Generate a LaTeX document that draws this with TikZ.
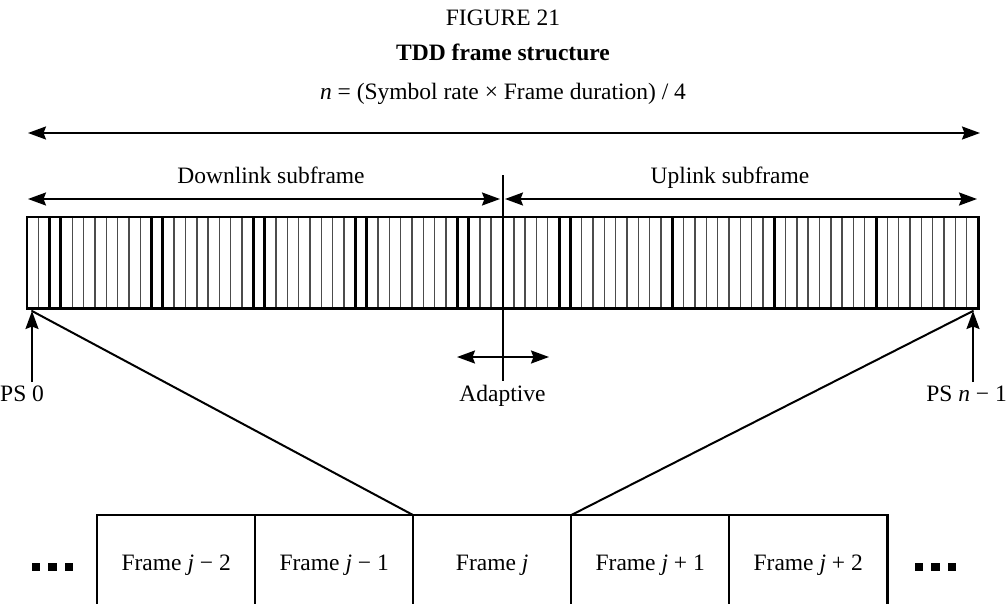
\documentclass[tikz,border=0pt]{standalone}
\usepackage{fontspec}
\setmainfont{Liberation Serif}
\usetikzlibrary{arrows.meta}

\begin{document}
\begin{tikzpicture}[x=1pt,y=-1pt,
  lbl/.style={font=\fontsize{23.5}{27}\selectfont, inner sep=0pt, anchor=base},
  tip/.tip={Stealth[length=18pt,width=13pt,inset=2.5pt]},
  dimline/.style={line width=2pt, {tip}-{tip}},
  pointer/.style={line width=2pt, -{tip}},
  edge/.style={line width=2pt, line cap=round},
  slotthin/.style={line width=1.4pt, draw=black!70},
  slotthick/.style={line width=3pt, draw=black},
  framebox/.style={minimum width=158pt, minimum height=99pt, inner sep=0pt,
    anchor=north west, font=\fontsize{23.5}{27}\selectfont,
    text height=16pt, text depth=5pt},
  dotsq/.style={fill=black, minimum size=8.5pt, inner sep=0pt}]

\useasboundingbox (0,0) rectangle (1007,603);
\clip (0,0) rectangle (1007,603);

% titles
\node[lbl] (fig)   at (503,25)  {FIGURE 21};
\node[lbl, font=\fontsize{23.5}{27}\selectfont\bfseries] (title) at (503,60) {TDD frame structure};
\node[lbl] (nlen)  at (503,99) {\textit{n} = (Symbol rate × Frame duration) / 4};

% overall length arrow
\coordinate (allL) at (28,133);
\coordinate (allR) at (980,133);
\draw[dimline] (allL) -- (allR);

% sub-frame labels and arrows
\node[lbl] (dltxt) at (271,183) {Downlink subframe};
\node[lbl] (ultxt) at (730,183) {Uplink subframe};
\coordinate (dlL) at (28,199);
\coordinate (dlR) at (500,199);
\coordinate (ulL) at (505,199);
\coordinate (ulR) at (977,199);
\draw[dimline] (dlL) -- (dlR);
\draw[dimline] (ulL) -- (ulR);

% the frame of physical slots (84 slots of 951/84 pt)
\node[minimum width=951pt, minimum height=91pt, inner sep=0pt, anchor=north west]
  (bar) at (27,217) {};
\foreach \i in {1,...,83} {
  \pgfmathsetmacro{\xx}{27+\i*11.32143}
  \draw[slotthin] (\xx,217) -- (\xx,308);
}
\foreach \i in {2,3,11,12,20,21,29,30,38,39,47,48,57,66,75} {
  \pgfmathsetmacro{\xx}{27+\i*11.32143}
  \draw[slotthick] (\xx,217) -- (\xx,308);
}
\draw[line width=2.2pt] (bar.north west) rectangle (bar.south east);

% adaptive boundary
\coordinate (divtop) at (502.5,175);
\coordinate (divbot) at (502.5,381);
\draw[line width=2pt] (divtop) -- (divbot);
\coordinate (adL) at (457,357);
\coordinate (adR) at (549,357);
\draw[dimline] (adL) -- (adR);
\node[lbl] (adtxt) at (502.5,401) {Adaptive};

% physical slot markers
\coordinate (ps0tip)  at (32,311);
\coordinate (ps0foot) at (32,382);
\coordinate (psntip)  at (973,311);
\coordinate (psnfoot) at (973,382);
\draw[pointer] (ps0foot) -- (ps0tip);
\draw[pointer] (psnfoot) -- (psntip);
\node[lbl, anchor=base west] (ps0) at (0,401) {PS 0};
\node[lbl, anchor=base east] (psn) at (1007,401) {PS \textit{n} − 1};

% sequence of frames
\node[framebox] (fm2) at (97,515)  {Frame \textit{j} − 2};
\node[framebox] (fm1) at (255,515) {Frame \textit{j} − 1};
\node[framebox] (f0)  at (413,515) {Frame \textit{j}};
\node[framebox] (fp1) at (571,515) {Frame \textit{j} + 1};
\node[framebox] (fp2) at (729,515) {Frame \textit{j} + 2};
\draw[line width=2.2pt] (fm2.south west) -- (fm2.north west) -- (fp2.north east) -- (fp2.south east);
\draw[line width=1.6pt] (fm1.north west) -- (fm1.south west);
\draw[line width=2pt] (f0.north west) -- (f0.south west);
\draw[line width=2pt] (fp1.north west) -- (fp1.south west);
\draw[line width=1.6pt] (fp2.north west) -- (fp2.south west);

% expansion lines
\draw[edge] (ps0tip) -- (f0.north west);
\draw[edge] (psntip) -- (f0.north east);

% continuation dots
\node[dotsq] (dl1) at (36,567) {};
\node[dotsq] (dl2) at (52.5,567) {};
\node[dotsq] (dl3) at (69,567) {};
\node[dotsq] (dr1) at (919,567) {};
\node[dotsq] (dr2) at (935.5,567) {};
\node[dotsq] (dr3) at (952,567) {};
\end{tikzpicture}
\end{document}
